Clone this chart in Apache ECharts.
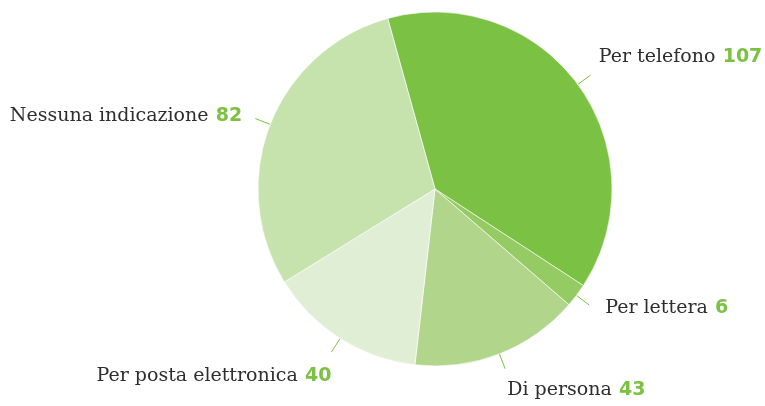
<!DOCTYPE html>
<html>
<head>
<meta charset="utf-8">
<script src="https://cdn.jsdelivr.net/npm/echarts@6/dist/echarts.min.js"></script>
<style>
  html, body { margin: 0; padding: 0; background: #fff; }
  #chart { width: 765px; height: 406px; }
</style>
</head>
<body>
<div id="chart"></div>
<script>
var categories = ['Per telefono', 'Per lettera', 'Di persona', 'Per posta elettronica', 'Nessuna indicazione'];
var values = [107, 6, 43, 40, 82];
var colors = ['#7bc143', '#95cb63', '#b1d68b', '#e1eed6', '#c6e2ad'];
// spazio attorno al testo per spostarlo rispetto alla fine della linea [top, right, bottom, left]
var labelPads = [[0, 0, 36, 8], [6, 0, 0, 16], [42, 0, 0, 2], [48, 0, 0, 0], [0, 13, 4, 0]];

var chart = echarts.init(document.getElementById('chart'));

var data = categories.map(function (name, i) {
    return {
        name: name,
        value: values[i],
        itemStyle: { color: colors[i] },
        label: { padding: labelPads[i] }
    };
});

chart.setOption({
    animation: false,
    series: [{
        type: 'pie',
        center: [435, 189],
        radius: 177,
        startAngle: 105.5,
        clockwise: true,
        data: data,
        itemStyle: { borderColor: '#ffffff', borderWidth: 0.6 },
        label: {
            formatter: function (p) {
                return '{n|' + p.name + '} {v|' + p.value + '}';
            },
            overflow: 'none',
            distanceToLabelLine: 0,
            rich: {
                n: { fontFamily: 'DejaVu Serif', fontSize: 19, color: '#2e2e2e' },
                v: { fontFamily: 'DejaVu Sans', fontWeight: 'bold', fontSize: 19, color: '#7bc143', padding: [0, 0, 0, 4] }
            }
        },
        labelLine: {
            length: 16,
            length2: 0,
            lineStyle: { color: '#7bc143', width: 1 }
        }
    }]
});
</script>
</body>
</html>
